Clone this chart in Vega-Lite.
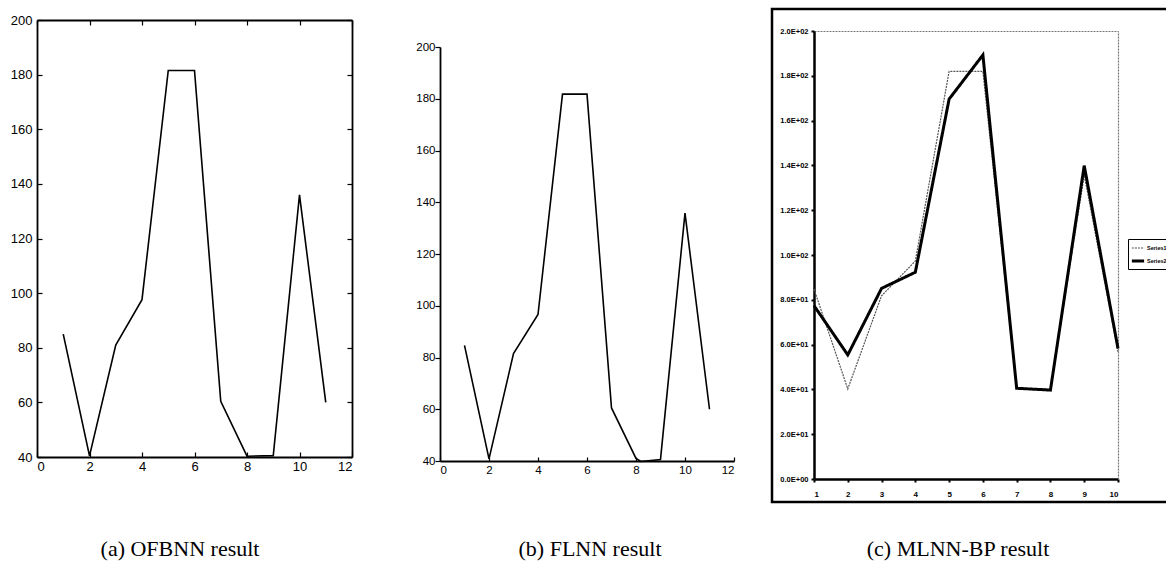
{
  "$schema": "https://vega.github.io/schema/vega-lite/v6.json",
  "background": "white",
  "padding": {"left": 0, "top": 7, "right": 0, "bottom": 0},
  "spacing": 0,
  "bounds": "flush",
  "config": {
    "view": {"stroke": null},
    "axis": {"grid": false, "domainColor": "black", "tickColor": "black", "labelColor": "black", "title": null},
    "legend": {"orient": "none", "legendX": 1128, "legendY": 230, "title": null, "strokeColor": "black", "padding": 2, "symbolType": "stroke", "symbolSize": 150, "rowPadding": 1, "labelFont": "Liberation Sans", "labelFontWeight": "bold", "labelFontSize": 5.5, "labelColor": "black", "labelOffset": 1}
  },
  "datasets": {
    "a": [
      {"x": 1, "y": 85}, {"x": 2, "y": 40.4}, {"x": 3, "y": 81}, {"x": 4, "y": 97.6},
      {"x": 5, "y": 181.5}, {"x": 6, "y": 181.5}, {"x": 7, "y": 60.4}, {"x": 8, "y": 40.3},
      {"x": 9, "y": 40.5}, {"x": 10, "y": 136}, {"x": 11, "y": 60}
    ],
    "b": [
      {"x": 1, "y": 84.7}, {"x": 2, "y": 40.8}, {"x": 3, "y": 81.5}, {"x": 4, "y": 96.6},
      {"x": 5, "y": 181.8}, {"x": 6, "y": 181.8}, {"x": 7, "y": 60.5}, {"x": 8, "y": 41},
      {"x": 8.2, "y": 39.8}, {"x": 9, "y": 40.6}, {"x": 10, "y": 135.8}, {"x": 11, "y": 60}
    ],
    "c": [
      {"x": 1, "y": 84.8, "series": "Series1"}, {"x": 2, "y": 40.2, "series": "Series1"},
      {"x": 3, "y": 81.8, "series": "Series1"}, {"x": 4, "y": 97.3, "series": "Series1"},
      {"x": 5, "y": 182, "series": "Series1"}, {"x": 6, "y": 182, "series": "Series1"},
      {"x": 7, "y": 40.5, "series": "Series1"}, {"x": 8, "y": 40, "series": "Series1"},
      {"x": 9, "y": 135.7, "series": "Series1"}, {"x": 10, "y": 56.8, "series": "Series1"},
      {"x": 1, "y": 77.4, "series": "Series2"}, {"x": 2, "y": 55.4, "series": "Series2"},
      {"x": 3, "y": 85.1, "series": "Series2"}, {"x": 4, "y": 92.3, "series": "Series2"},
      {"x": 5, "y": 169.6, "series": "Series2"}, {"x": 6, "y": 189.3, "series": "Series2"},
      {"x": 7, "y": 40.5, "series": "Series2"}, {"x": 8, "y": 39.7, "series": "Series2"},
      {"x": 9, "y": 139.9, "series": "Series2"}, {"x": 10, "y": 58.3, "series": "Series2"}
    ]
  },
  "hconcat": [
    {
      "width": 400,
      "height": 493,
      "data": {"name": "a"},
      "title": {"text": "(a) OFBNN result", "orient": "bottom", "frame": "group", "anchor": "middle", "dx": -20, "offset": 37, "font": "Liberation Serif", "fontSize": 22, "fontWeight": "normal", "color": "black"},
      "layer": [
        {
          "mark": {"type": "line", "stroke": "black", "strokeWidth": 1.6},
          "encoding": {
            "x": {"field": "x", "type": "quantitative",
              "scale": {"domain": [0, 12], "range": [37, 352], "nice": false, "zero": false},
              "axis": {"orient": "bottom", "offset": -45, "values": [0, 2, 4, 6, 8, 10, 12], "tickSize": -5, "tickWidth": 1.2, "labelPadding": 8, "domainWidth": 1.8, "labelFont": "Liberation Sans", "labelFontSize": 13}},
            "y": {"field": "y", "type": "quantitative",
              "scale": {"domain": [40, 200], "range": [448, 11], "nice": false, "zero": false},
              "axis": {"orient": "left", "offset": -37, "values": [40, 60, 80, 100, 120, 140, 160, 180, 200], "tickSize": -5, "tickWidth": 1.2, "labelPadding": 10, "domainWidth": 1.8, "labelFont": "Liberation Sans", "labelFontSize": 13}}
          }
        },
        {
          "mark": {"type": "line", "opacity": 0},
          "encoding": {
            "x": {"field": "x", "type": "quantitative",
              "axis": {"orient": "top", "offset": -11, "values": [0, 2, 4, 6, 8, 10, 12], "tickSize": -5, "tickWidth": 1.2, "labels": false, "domainWidth": 1.8}},
            "y": {"field": "y", "type": "quantitative",
              "axis": {"orient": "right", "offset": -48, "values": [40, 60, 80, 100, 120, 140, 160, 180, 200], "tickSize": -5, "tickWidth": 1.2, "labels": false, "domainWidth": 1.8}}
          }
        }
      ],
      "resolve": {"axis": {"x": "independent", "y": "independent"}}
    },
    {
      "width": 372,
      "height": 493,
      "data": {"name": "b"},
      "title": {"text": "(b) FLNN result", "orient": "bottom", "frame": "group", "anchor": "middle", "dx": 4, "offset": 37, "font": "Liberation Serif", "fontSize": 22, "fontWeight": "normal", "color": "black"},
      "mark": {"type": "line", "stroke": "black", "strokeWidth": 1.6},
      "encoding": {
        "x": {"field": "x", "type": "quantitative",
          "scale": {"domain": [0, 12], "range": [40, 334], "nice": false, "zero": false},
          "axis": {"orient": "bottom", "offset": -41, "values": [0, 2, 4, 6, 8, 10, 12], "tickSize": -4, "tickWidth": 1.2, "labelPadding": 7, "domainWidth": 1.8, "labelFont": "Liberation Sans", "labelFontSize": 11.5}},
        "y": {"field": "y", "type": "quantitative",
          "scale": {"domain": [40, 200], "range": [452, 38], "nice": false, "zero": false},
          "axis": {"orient": "left", "offset": -40, "values": [40, 60, 80, 100, 120, 140, 160, 180, 200], "tickSize": 5, "tickWidth": 1.2, "labelPadding": 0, "domainWidth": 1.8, "labelFont": "Liberation Sans", "labelFontSize": 11.5}}
      }
    },
    {
      "width": 400,
      "height": 493,
      "view": {"stroke": "black", "strokeWidth": 2.5},
      "data": {"name": "c"},
      "title": {"text": "(c) MLNN-BP result", "orient": "bottom", "frame": "group", "anchor": "middle", "dx": -14, "offset": 37, "font": "Liberation Serif", "fontSize": 22, "fontWeight": "normal", "color": "black"},
      "layer": [
        {
          "mark": {"type": "line"},
          "encoding": {
            "x": {"field": "x", "type": "quantitative",
              "scale": {"domain": [1, 10], "range": [42, 346], "nice": false, "zero": false},
              "axis": {"orient": "bottom", "offset": -23, "values": [1, 2, 3, 4, 5, 6, 7, 8, 9, 10], "tickSize": 3, "tickWidth": 2, "labelPadding": 8, "domainWidth": 2.5, "labelFont": "Liberation Sans", "labelFontWeight": "bold", "labelFontSize": 8}},
            "y": {"field": "y", "type": "quantitative",
              "scale": {"domain": [0, 200], "range": [470, 22], "nice": false, "zero": false},
              "axis": {"orient": "left", "offset": -42, "values": [0, 20, 40, 60, 80, 100, 120, 140, 160, 180, 200], "tickSize": 3, "tickWidth": 2, "labelPadding": 3, "domainWidth": 2.5, "labelFont": "Liberation Sans", "labelFontWeight": "bold", "labelFontSize": 7.5,
                "labelExpr": "datum.value >= 100 ? format(datum.value / 100, '.1f') + 'E+02' : (datum.value >= 10 ? format(datum.value / 10, '.1f') + 'E+01' : '0.0E+00')"}},
            "color": {"field": "series", "type": "nominal",
              "scale": {"domain": ["Series1", "Series2"], "range": ["#555555", "black"]}},
            "strokeWidth": {"field": "series", "type": "nominal",
              "scale": {"domain": ["Series1", "Series2"], "range": [1.2, 3]}},
            "strokeDash": {"field": "series", "type": "nominal",
              "scale": {"domain": ["Series1", "Series2"], "range": [[2, 1], [1, 0]]}}
          }
        },
        {
          "mark": {"type": "line", "opacity": 0},
          "encoding": {
            "x": {"field": "x", "type": "quantitative",
              "axis": {"orient": "top", "offset": -22, "ticks": false, "labels": false, "domainColor": "#777777", "domainDash": [2, 1], "domainWidth": 1.2}},
            "y": {"field": "y", "type": "quantitative",
              "axis": {"orient": "right", "offset": -54, "ticks": false, "labels": false, "domainColor": "#777777", "domainDash": [2, 1], "domainWidth": 1.2}}
          }
        }
      ],
      "resolve": {"axis": {"x": "independent", "y": "independent"}}
    }
  ]
}
